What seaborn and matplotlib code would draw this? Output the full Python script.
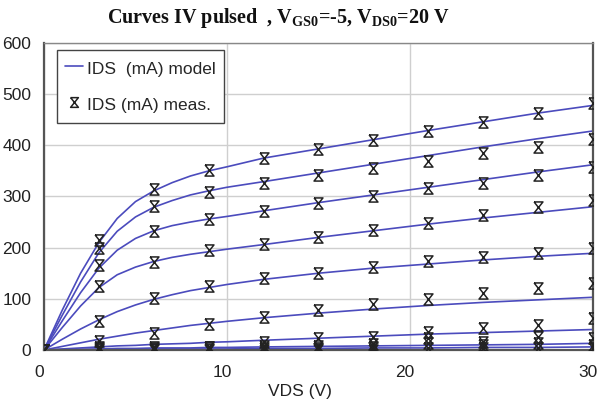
import numpy as np
import pandas as pd
import matplotlib
matplotlib.use("Agg")
import matplotlib.pyplot as plt
import matplotlib.transforms as mtransforms
from matplotlib.lines import Line2D
import seaborn as sns

# model curves
vds_model = [0, 1, 2, 3, 4, 5, 6, 7, 8, 9, 10, 12, 15, 18, 21, 24, 27, 30]
model = {
    "c1": [0, 78, 150, 210, 257, 290, 311, 327, 340, 350, 358, 375, 393, 411, 429, 446, 463, 478],
    "c2": [0, 68, 133, 190, 232, 260, 279, 292, 303, 311, 318, 329, 346, 363, 380, 397, 413, 428],
    "c3": [0, 57, 112, 160, 195, 218, 233, 243, 250, 256, 261, 272, 288, 303, 318, 333, 348, 362],
    "c4": [0, 44, 86, 122, 147, 162, 173, 181, 187, 192, 197, 206, 220, 233, 246, 258, 269, 280],
    "c5": [0, 21, 41, 59, 75, 88, 99, 108, 116, 122, 128, 138, 150, 160, 168, 176, 183, 189],
    "c6": [0, 7, 14, 21, 27, 33, 38, 43, 48, 52, 56, 63, 72, 80, 87, 93, 98, 103],
    "c7": [0, 2, 4, 6, 8, 9, 11, 12, 13, 15, 16, 19, 23, 27, 31, 34, 37, 40],
    "c8": [0, 1, 1, 2, 3, 3, 4, 4, 4, 5, 5, 6, 7, 8, 9, 10, 11, 13],
    "c9": [0, 0, 1, 1, 1, 1, 2, 2, 2, 2, 2, 3, 3, 4, 4, 5, 5, 6],
    "c10": [0] * 18,
}

# measured points
vds_meas = [0, 3, 6, 9, 12, 15, 18, 21, 24, 27, 30]
meas = {
    "c1": [0, 215, 314, 352, 375, 392, 410, 427, 446, 464, 482],
    "c2": [0, 199, 282, 309, 327, 342, 355, 370, 384, 397, 412],
    "c3": [0, 167, 233, 255, 272, 288, 300, 316, 327, 342, 358],
    "c4": [0, 125, 171, 195, 207, 221, 235, 248, 264, 280, 294],
    "c5": [0, 57, 101, 125, 140, 151, 162, 173, 182, 190, 199],
    "c6": [0, 18, 33, 51, 65, 78, 90, 100, 112, 121, 130],
    "c7": [0, 6, 6, 6, 16, 23, 26, 36, 42, 49, 62],
    "c8": [0, 3, 3, 5, 8, 8, 12, 23, 16, 26, 23],
    "c9": [0, 1, 1, 2, 3, 4, 5, 13, 9, 13, 10],
    "c10": [0, 0, 0, 0, 0, 0, 0, 3, 3, 3, 3],
}

model_df = pd.concat(
    [pd.DataFrame({"vds": vds_model, "ids": v, "curve": k}) for k, v in model.items()]
)
meas_df = pd.concat(
    [pd.DataFrame({"vds": vds_meas, "ids": v, "curve": k}) for k, v in meas.items()]
)

sns.set_style("white")
plt.rcParams["font.family"] = ["Liberation Sans", "DejaVu Sans"]
plt.rcParams["mathtext.fontset"] = "custom"
plt.rcParams["mathtext.rm"] = "Liberation Serif:bold"
plt.rcParams["mathtext.bf"] = "Liberation Serif:bold"

line_color = "#4b4bbd"
hourglass = [(-0.8, 1), (0.8, 1), (-0.8, -1), (0.8, -1), (-0.8, 1)]

fig = plt.figure(figsize=(6.01, 4.08), dpi=100)
ax = fig.add_axes([0.0732, 0.1422, 0.9135, 0.7525])

sns.lineplot(data=model_df, x="vds", y="ids", units="curve", estimator=None,
             sort=False, color=line_color, linewidth=1.2, ax=ax, legend=False)
ax.plot(meas_df["vds"], meas_df["ids"], linestyle="none", marker=hourglass,
        markersize=8, markerfacecolor="none", markeredgecolor="#222222",
        markeredgewidth=1.1, zorder=3)

ax.set_xlim(0, 30)
ax.set_ylim(0, 600)
ax.set_xticks([0, 10, 20, 30])
ax.set_yticks(range(0, 601, 100))
ax.tick_params(length=0, labelsize=12.5, colors="#222222", pad=9)
ax.tick_params(axis="x", pad=11)
# x tick labels sit a little left of their grid lines
shift = mtransforms.ScaledTranslation(-5 / 100, 0, fig.dpi_scale_trans)
for lab in ax.get_xticklabels():
    lab.set_transform(lab.get_transform() + shift)
ax.grid(True, color="#cfcfcf", linewidth=1)
for side in ["left", "right", "bottom", "top"]:
    ax.spines[side].set_color("#555555")
    ax.spines[side].set_linewidth(1.6)
ax.spines["top"].set_color("#888888")
ax.spines["top"].set_linewidth(1.0)

ax.set_xlabel("VDS (V)", fontsize=12.5, color="#222222")
ax.set_ylabel("")
ax.xaxis.set_label_coords(0.466, -0.112)

fig.text(0.463, 0.955,
         r"Curves IV pulsed  , V$_{\rm GS0}$=-5, V$_{\rm DS0}$=20 V",
         ha="center", va="center", fontsize=14.5, fontweight="bold",
         family="Liberation Serif", color="#111111")

handles = [
    Line2D([], [], color=line_color, linewidth=1.2, label="IDS  (mA) model"),
    Line2D([], [], linestyle="none", marker=hourglass, markersize=7,
           markerfacecolor="none", markeredgecolor="#222222",
           markeredgewidth=1.1, label="IDS (mA) meas."),
]
leg = ax.legend(handles=handles, loc="upper left", bbox_to_anchor=(0.0237, 0.977),
                fontsize=12.5, frameon=True, fancybox=False, framealpha=1,
                edgecolor="#444444", labelspacing=0.86, handlelength=1.05,
                handleheight=1.5, handletextpad=0.25, borderpad=0.45,
                borderaxespad=0)
leg.get_frame().set_linewidth(1.0)

fig.savefig("out.png", dpi=100)
